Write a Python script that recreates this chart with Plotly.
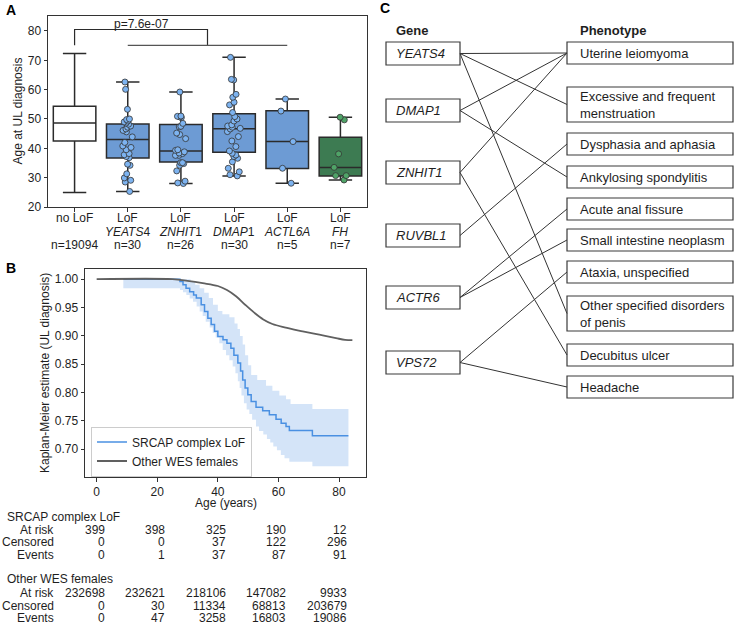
import plotly.graph_objects as go

W, H = 736, 624
FONT = "Liberation Sans, Arial, sans-serif"

# ---------------- Panel A data ----------------
group_line1 = ["no LoF", "LoF", "LoF", "LoF", "LoF", "LoF"]
group_line2 = ["", "<i>YEATS</i>4", "<i>ZNHIT</i>1", "<i>DMAP</i>1", "<i>ACTL6A</i>", "<i>FH</i>"]
group_line3 = ["n=19094", "n=30", "n=26", "n=30", "n=5", "n=7"]
box_q1 = [42.5, 36.7, 35.3, 38.7, 33.1, 30.6]
box_median = [48.6, 43.0, 39.1, 46.7, 42.3, 33.5]
box_q3 = [54.3, 48.3, 48.1, 51.8, 52.8, 43.8]
box_lower = [24.9, 25.3, 28.0, 30.6, 28.1, 29.2]
box_upper = [72.3, 62.6, 59.2, 71.0, 56.8, 50.6]

ages_yeats4 = [25.3, 28.5, 29.1, 29.9, 31.3, 34.2, 34.6, 36.8, 37.2, 37.8,
               38.2, 39.5, 40.3, 40.8, 42.0, 43.9, 45.6, 46.1, 46.6, 47.2,
               47.6, 48.2, 48.6, 49.0, 49.3, 49.8, 50.0, 53.3, 60.1, 62.6]
ages_znhit1 = [28.0, 28.2, 28.8, 32.3, 34.2, 34.8, 35.1, 35.1, 37.6, 37.6,
               38.2, 38.4, 38.8, 39.3, 39.5, 43.3, 44.7, 45.2, 47.3, 47.5,
               48.5, 50.5, 50.7, 50.9, 51.0, 59.2]
ages_dmap1 = [30.6, 31.0, 32.0, 33.2, 35.4, 36.6, 37.2, 37.7, 38.3, 39.1,
              40.6, 42.5, 44.0, 45.7, 46.6, 46.8, 47.2, 47.6, 48.0, 49.3,
              50.0, 50.8, 52.2, 54.8, 55.7, 57.4, 58.4, 63.3, 63.5, 71.0]
ages_actl6a = [28.1, 33.2, 42.3, 52.7, 56.8]
ages_fh = [29.2, 30.7, 30.7, 33.5, 38.1, 49.7, 50.6]
group_points = [None, ages_yeats4, ages_znhit1, ages_dmap1, ages_actl6a, ages_fh]

p_text = "p=7.6e-07"
bracket_ref = 0          # "no LoF"
bracket_span = (1, 4)    # YEATS4 .. ACTL6A
bracket_low, bracket_high = 75.1, 80.5

# ---------------- Panel B data ----------------
srcap_age = [8.8, 27.5, 28.5, 29.5, 30.7, 32.0, 32.9, 34.5, 35.6, 36.7, 37.8, 38.9,
             40.0, 41.7, 43.0, 44.3, 45.3, 46.6, 47.5, 48.2, 49.0, 49.9, 51.0, 52.6,
             54.8, 57.0, 59.2, 60.9, 62.5, 63.6, 71.2, 83.1]
srcap_surv = [1.0, 0.996, 0.990, 0.984, 0.978, 0.972, 0.967, 0.955, 0.943, 0.931, 0.920, 0.908,
              0.899, 0.893, 0.887, 0.878, 0.866, 0.852, 0.838, 0.822, 0.808, 0.796, 0.784, 0.774,
              0.768, 0.761, 0.753, 0.746, 0.740, 0.733, 0.724, 0.724]
srcap_hi_age = [8.8, 29.0, 31.0, 32.5, 34.0, 35.5, 37.0, 38.4, 40.0, 41.5, 43.8, 45.5, 46.5,
                47.3, 48.2, 49.0, 50.0, 51.0, 53.0, 55.9, 58.0, 60.3, 62.5, 64.0, 71.2, 83.1]
srcap_hi = [1.0, 1.0, 0.995, 0.990, 0.984, 0.976, 0.967, 0.955, 0.944, 0.938, 0.933, 0.922, 0.912,
            0.900, 0.885, 0.866, 0.848, 0.831, 0.822, 0.812, 0.803, 0.795, 0.788, 0.780, 0.771, 0.771]
srcap_lo_age = [8.8, 27.5, 28.5, 29.6, 30.7, 31.8, 33.0, 34.0, 35.0, 36.0, 37.3, 38.3, 39.3,
                40.5, 41.6, 42.7, 43.8, 44.9, 45.8, 46.6, 47.2, 47.8, 48.6, 49.5, 50.4, 51.3,
                52.6, 53.6, 55.0, 56.2, 57.3, 58.3, 59.5, 60.8, 62.0, 63.6, 71.2, 83.1]
srcap_lo = [0.984, 0.981, 0.977, 0.972, 0.966, 0.960, 0.952, 0.943, 0.935, 0.925, 0.915, 0.905, 0.897,
            0.887, 0.875, 0.866, 0.857, 0.846, 0.834, 0.820, 0.808, 0.795, 0.781, 0.770, 0.762, 0.752,
            0.740, 0.732, 0.726, 0.718, 0.712, 0.705, 0.698, 0.690, 0.684, 0.678, 0.670, 0.670]
wes_age = [0, 25, 30, 35, 40, 43, 46, 49, 52, 55, 58, 62, 68, 73.5, 79, 82, 84.4]
wes_surv = [1.0, 1.0, 0.997, 0.993, 0.988, 0.981, 0.970, 0.955, 0.941, 0.929, 0.921, 0.915,
            0.908, 0.902, 0.896, 0.893, 0.8925]

risk_ages = [0, 20, 40, 60, 80]
risk_groups = ["SRCAP complex LoF", "Other WES females"]
risk_rows = ["At risk", "Censored", "Events"]
srcap_at_risk = [399, 398, 325, 190, 12]
srcap_censored = [0, 0, 37, 122, 296]
srcap_events = [0, 1, 37, 87, 91]
wes_at_risk = [232698, 232621, 218106, 147082, 9933]
wes_censored = [0, 30, 11334, 68813, 203679]
wes_events = [0, 47, 3258, 16803, 19086]

# ---------------- Panel C data ----------------
genes = ["YEATS4", "DMAP1", "ZNHIT1", "RUVBL1", "ACTR6", "VPS72"]
phenotypes = ["Uterine leiomyoma", "Excessive and frequent<br>menstruation",
              "Dysphasia and aphasia", "Ankylosing spondylitis", "Acute anal fissure",
              "Small intestine neoplasm", "Ataxia, unspecified",
              "Other specified disorders<br>of penis", "Decubitus ulcer", "Headache"]
link_gene = [0, 0, 0, 1, 1, 2, 2, 3, 4, 4, 5, 5]
link_pheno = [0, 1, 7, 0, 3, 0, 8, 2, 4, 5, 6, 9]

# ---------------- styles / layout helpers ----------------
BLUE_BOX = "#6d9bd4"
GREEN_BOX = "#3d7b52"
box_fill = ["white", BLUE_BOX, BLUE_BOX, BLUE_BOX, BLUE_BOX, GREEN_BOX]
pt_color = [None, "#7db3f0", "#7db3f0", "#7db3f0", "#7db3f0", "#4fa367"]
KM_BLUE = "#4a90e2"
DARK = "#2b2b2b"
TXT = "#1e1e1e"


def py(p):
    return 1 - p / H


def pxx(p):
    return p / W


fig = go.Figure()

# ---- Panel A ----
for i in range(len(group_line1)):
    fig.add_trace(go.Box(
        x=[i], q1=[box_q1[i]], median=[box_median[i]], q3=[box_q3[i]],
        lowerfence=[box_lower[i]], upperfence=[box_upper[i]],
        width=0.8, whiskerwidth=0.55, fillcolor=box_fill[i],
        line=dict(color=DARK, width=1.5), boxpoints=False,
        showlegend=False, xaxis="x", yaxis="y"))
for i, pts in enumerate(group_points):
    if not pts:
        continue
    fig.add_trace(go.Box(
        x=[i] * len(pts), y=pts, boxpoints="all", jitter=0.35, pointpos=0,
        width=0.8, fillcolor="rgba(0,0,0,0)", line=dict(color="rgba(0,0,0,0)", width=0),
        marker=dict(color=pt_color[i], size=6, line=dict(color="#333333", width=0.8)),
        showlegend=False, xaxis="x", yaxis="y"))

mid = (bracket_span[0] + bracket_span[1]) / 2
fig.add_trace(go.Scatter(
    x=[bracket_ref, bracket_ref, mid, mid],
    y=[bracket_low, bracket_high, bracket_high, bracket_low],
    mode="lines", line=dict(color=DARK, width=1.2), showlegend=False,
    hoverinfo="skip", xaxis="x", yaxis="y"))
fig.add_trace(go.Scatter(
    x=list(bracket_span), y=[bracket_low, bracket_low],
    mode="lines", line=dict(color="#555555", width=1.2), showlegend=False,
    hoverinfo="skip", xaxis="x", yaxis="y"))

# ---- Panel B ----
fig.add_trace(go.Scatter(
    x=srcap_lo_age, y=srcap_lo, mode="lines", line=dict(width=0, shape="hv", color=KM_BLUE),
    showlegend=False, hoverinfo="skip", xaxis="x2", yaxis="y2"))
fig.add_trace(go.Scatter(
    x=srcap_hi_age, y=srcap_hi, mode="lines", line=dict(width=0, shape="hv", color=KM_BLUE),
    fill="tonexty", fillcolor="rgba(74,144,226,0.24)",
    showlegend=False, hoverinfo="skip", xaxis="x2", yaxis="y2"))
fig.add_trace(go.Scatter(
    x=srcap_age, y=srcap_surv, mode="lines", name="SRCAP complex LoF",
    line=dict(color=KM_BLUE, width=1.5, shape="hv"), legendrank=1,
    xaxis="x2", yaxis="y2"))
fig.add_trace(go.Scatter(
    x=wes_age, y=wes_surv, mode="lines", name="Other WES females",
    line=dict(color="#606060", width=1.8, shape="spline"), legendrank=2,
    xaxis="x2", yaxis="y2"))

# ---- Panel C ----
gene_x0, gene_x1 = 386, 460
pheno_x0, pheno_x1 = 567, 733
gene_top = [42, 99, 161, 224, 286, 351]
gene_h = 23
pheno_top = [42, 87, 133, 166, 198, 229, 261, 296, 344, 376]
pheno_h = [35 if "<br>" in p else 22 for p in phenotypes]
gene_cy = [t + gene_h / 2 for t in gene_top]
pheno_cy = [t + h / 2 for t, h in zip(pheno_top, pheno_h)]

lx, ly = [], []
for g, p in zip(link_gene, link_pheno):
    lx += [gene_x1, pheno_x0, None]
    ly += [gene_cy[g], pheno_cy[p], None]
fig.add_trace(go.Scatter(x=lx, y=ly, mode="lines", line=dict(color="#333333", width=1),
                         showlegend=False, hoverinfo="skip", xaxis="x3", yaxis="y3"))

shapes = []
annotations = []
for name, t, cy in zip(genes, gene_top, gene_cy):
    shapes.append(dict(type="rect", xref="x3", yref="y3", x0=gene_x0, x1=gene_x1,
                       y0=t, y1=t + gene_h, line=dict(color="#3a3a3a", width=1.2)))
    annotations.append(dict(xref="x3", yref="y3", x=gene_x0 + 8, y=cy, text=f"<i>{name}</i>",
                            xanchor="left", yanchor="middle", showarrow=False,
                            font=dict(size=13, color=TXT)))
for name, t, h, cy in zip(phenotypes, pheno_top, pheno_h, pheno_cy):
    shapes.append(dict(type="rect", xref="x3", yref="y3", x0=pheno_x0, x1=pheno_x1,
                       y0=t, y1=t + h, line=dict(color="#3a3a3a", width=1.2)))
    annotations.append(dict(xref="x3", yref="y3", x=pheno_x0 + 11, y=cy, text=name,
                            xanchor="left", yanchor="middle", align="left", showarrow=False,
                            font=dict(size=13, color=TXT)))
annotations.append(dict(xref="x3", yref="y3", x=394, y=30, text="<b>Gene</b>",
                        xanchor="left", yanchor="middle", showarrow=False,
                        font=dict(size=13, color=TXT)))
annotations.append(dict(xref="x3", yref="y3", x=578, y=30, text="<b>Phenotype</b>",
                        xanchor="left", yanchor="middle", showarrow=False,
                        font=dict(size=13, color=TXT)))

# panel letters
for letter, x, y in [("A", 4, 10), ("B", 4, 268), ("C", 378, 8)]:
    annotations.append(dict(xref="paper", yref="paper", x=pxx(x), y=py(y), text=f"<b>{letter}</b>",
                            xanchor="left", yanchor="middle", showarrow=False,
                            font=dict(size=14, color="black")))

# category labels of panel A (three text rows under each box)
for row_texts, ry in [(group_line1, 218.3), (group_line2, 231.7), (group_line3, 245)]:
    for i, t in enumerate(row_texts):
        if t:
            annotations.append(dict(xref="x", yref="paper", x=i, y=py(ry), text=t,
                                    xanchor="center", yanchor="middle", showarrow=False,
                                    font=dict(size=12, color=TXT)))

# p-value
annotations.append(dict(xref="x", yref="y", x=1.25, y=82.3, text=p_text, showarrow=False,
                        xanchor="center", yanchor="middle", font=dict(size=12, color=TXT)))

# axis titles
annotations.append(dict(xref="paper", yref="paper", x=pxx(17), y=py(111.5),
                        text="Age at UL diagnosis", textangle=-90, showarrow=False,
                        xanchor="center", yanchor="middle", font=dict(size=12, color=TXT)))
annotations.append(dict(xref="paper", yref="paper", x=pxx(45), y=py(373),
                        text="Kaplan-Meier estimate (UL diagnosis)", textangle=-90, showarrow=False,
                        xanchor="center", yanchor="middle", font=dict(size=12, color=TXT)))
annotations.append(dict(xref="paper", yref="paper", x=pxx(226), y=py(503),
                        text="Age (years)", showarrow=False,
                        xanchor="center", yanchor="middle", font=dict(size=12, color=TXT)))

# at-risk table
table_blocks = [
    (risk_groups[0], 517, [srcap_at_risk, srcap_censored, srcap_events], [529.5, 542, 554.5]),
    (risk_groups[1], 579, [wes_at_risk, wes_censored, wes_events], [593, 605.5, 618]),
]
for title, ty, rows, rys in table_blocks:
    annotations.append(dict(xref="paper", yref="paper", x=pxx(5), y=py(ty), text=title,
                            xanchor="left", yanchor="middle", showarrow=False,
                            font=dict(size=12, color=TXT)))
    for rname, vals, ry in zip(risk_rows, rows, rys):
        annotations.append(dict(xref="paper", yref="paper", x=pxx(56), y=py(ry), text=rname,
                                xanchor="right", yanchor="middle", showarrow=False,
                                font=dict(size=12, color=TXT)))
        for a, v in zip(risk_ages, vals):
            annotations.append(dict(xref="x2", yref="paper", x=a, y=py(ry), text=str(v),
                                    xanchor="right", yanchor="middle", xshift=10, showarrow=False,
                                    font=dict(size=12, color=TXT)))

axis_common = dict(showline=True, mirror=True, linecolor="#333333", linewidth=1,
                   showgrid=False, zeroline=False, ticks="outside", ticklen=3.5,
                   tickwidth=1, tickcolor="#333333", automargin=False,
                   tickfont=dict(size=12, color=TXT, family=FONT))

fig.update_layout(
    width=W, height=H, margin=dict(l=0, r=0, t=0, b=0, autoexpand=False),
    paper_bgcolor="white", plot_bgcolor="white",
    font=dict(family=FONT, size=12, color=TXT),
    boxmode="overlay",
    xaxis=dict(domain=[pxx(48), pxx(367)], range=[-0.5, 5.5], anchor="y",
               tickvals=list(range(len(group_line1))), showticklabels=False, **axis_common),
    yaxis=dict(domain=[py(207), py(16)], range=[20, 85.1], anchor="x",
               tickvals=[20, 30, 40, 50, 60, 70, 80], **axis_common),
    xaxis2=dict(domain=[pxx(85), pxx(366)], range=[-3.85, 88.9], anchor="y2",
                tickvals=risk_ages, **axis_common),
    yaxis2=dict(domain=[py(477), py(269)], range=[0.651, 1.018], anchor="x2",
                tickvals=[0.70, 0.75, 0.80, 0.85, 0.90, 0.95, 1.00], tickformat=".2f",
                **axis_common),
    xaxis3=dict(domain=[pxx(370), 1], range=[370, 736], anchor="y3", visible=False,
                automargin=False),
    yaxis3=dict(domain=[py(460), 1], range=[460, 0], anchor="x3", visible=False,
                automargin=False),
    legend=dict(x=pxx(91), y=py(451.5), xanchor="left", yanchor="middle",
                traceorder="normal",
                bgcolor="rgba(255,255,255,0.85)", bordercolor="#cccccc", borderwidth=1,
                font=dict(size=12, color=TXT), tracegroupgap=0),
    shapes=shapes, annotations=annotations,
)

fig.write_html("out.html", config={"displayModeBar": False},
               post_script="document.body.style.margin='0';document.body.style.padding='0';")
